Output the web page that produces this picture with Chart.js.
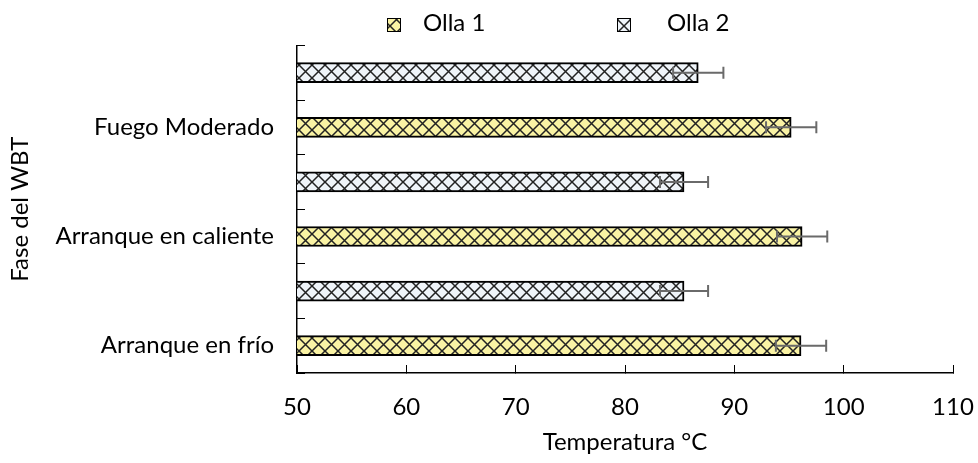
<!DOCTYPE html>
<html>
<head>
<meta charset="utf-8">
<script src="https://cdn.jsdelivr.net/npm/chart.js@4"></script>
<style>
  html, body { margin: 0; padding: 0; background: #fff; }
  #wrap { width: 978px; height: 463px; }
</style>
</head>
<body>
<div id="wrap"><canvas id="chart"></canvas></div>
<script>
// Données
const phases = ['Arranque en frío', 'Arranque en caliente', 'Fuego Moderado'];
const olla1 = [96.1, 96.2, 95.2];
const olla2 = [85.4, 85.4, 86.7];
const olla1Err = [2.3, 2.3, 2.3];
const olla2Err = [2.2, 2.2, 2.3];
const xTicks = [50, 60, 70, 80, 90, 100, 110];

const FONT = 'Lato';

// Motif quadrillé en diagonale (comme le remplissage Excel)
function crossPattern(bg, line) {
  const p = 13;
  const c = document.createElement('canvas');
  c.width = p; c.height = p;
  const g = c.getContext('2d');
  g.fillStyle = bg;
  g.fillRect(0, 0, p, p);
  g.strokeStyle = line;
  g.lineWidth = 1.5;
  g.beginPath();
  g.moveTo(0, 0); g.lineTo(p, p);
  g.moveTo(p, 0); g.lineTo(0, p);
  g.stroke();
  return g.createPattern(c, 'repeat');
}

const fill1 = crossPattern('#faf3a4', '#222');
const fill2 = crossPattern('#eff4f9', '#222');

// Une case par barre : Olla 1 puis Olla 2 pour chaque phase
const labels = phases.flatMap(p => [p, '']);
const data1 = olla1.flatMap(v => [v, null]);
const data2 = olla2.flatMap(v => [null, v]);
const err1 = olla1Err.flatMap(e => [e, null]);
const err2 = olla2Err.flatMap(e => [null, e]);

const errorBars = {
  id: 'errorBars',
  afterDatasetsDraw(chart) {
    const ctx = chart.ctx;
    const xs = chart.scales.x;
    chart.data.datasets.forEach((ds, di) => {
      const meta = chart.getDatasetMeta(di);
      meta.data.forEach((bar, i) => {
        const v = ds.data[i], e = ds.errors[i];
        if (v == null || e == null) return;
        const x1 = xs.getPixelForValue(v - e);
        const x2 = xs.getPixelForValue(v + e);
        const y = bar.y;
        ctx.save();
        ctx.strokeStyle = '#6a6a6a';
        ctx.lineWidth = 2;
        ctx.beginPath();
        ctx.moveTo(x1, y); ctx.lineTo(x2, y);
        ctx.moveTo(x1, y - 6); ctx.lineTo(x1, y + 6);
        ctx.moveTo(x2, y - 6); ctx.lineTo(x2, y + 6);
        ctx.stroke();
        ctx.restore();
      });
    });
  }
};

// Légende en haut, placée comme dans l'original
const topLegend = {
  id: 'topLegend',
  afterDraw(chart) {
    const ctx = chart.ctx;
    const a = chart.chartArea;
    const offsets = [90, 320];
    chart.data.datasets.forEach((ds, i) => {
      const bx = a.left + offsets[i];
      const by = 18;
      ctx.save();
      ctx.fillStyle = ds.backgroundColor;
      ctx.fillRect(bx, by, 14, 14);
      ctx.strokeStyle = '#000';
      ctx.lineWidth = 1;
      ctx.strokeRect(bx + 0.5, by + 0.5, 13, 13);
      ctx.fillStyle = '#000';
      ctx.font = '24px ' + FONT;
      ctx.textBaseline = 'middle';
      ctx.fillText(ds.label, bx + 36 + i * 14, by + 5);
      ctx.restore();
    });
  }
};

new Chart(document.getElementById('chart'), {
  type: 'bar',
  data: {
    labels: labels,
    datasets: [
      { label: 'Olla 1', data: data1, errors: err1, backgroundColor: fill1, borderColor: '#000', borderWidth: 2 },
      { label: 'Olla 2', data: data2, errors: err2, backgroundColor: fill2, borderColor: '#000', borderWidth: 2 }
    ]
  },
  options: {
    indexAxis: 'y',
    responsive: true,
    maintainAspectRatio: false,
    animation: false,
    skipNull: true,
    barThickness: 20,
    layout: { padding: { top: 42, right: 0, left: 0, bottom: 0 } },
    plugins: {
      legend: { display: false },
      tooltip: { enabled: false }
    },
    scales: {
      x: {
        type: 'linear',
        min: xTicks[0],
        max: xTicks[xTicks.length - 1],
        ticks: { stepSize: xTicks[1] - xTicks[0], color: '#000', font: { family: FONT, size: 24 }, padding: 28 },
        grid: { drawOnChartArea: false, tickLength: -8, color: '#000', lineWidth: 1 },
        border: { color: '#000', width: 1.5 },
        title: { display: true, text: 'Temperatura °C', color: '#000', font: { family: FONT, size: 24 }, padding: { top: 0, bottom: 6 } },
        afterFit: s => { s.height = 90; s.paddingRight = 25; s.paddingLeft = 0; }
      },
      y: {
        reverse: true,
        ticks: { color: '#000', font: { family: FONT, size: 24 }, padding: 31, autoSkip: false },
        grid: { drawOnChartArea: false, tickLength: -8, color: '#000', lineWidth: 1 },
        border: { color: '#000', width: 1.5 },
        title: { display: true, text: 'Fase del WBT', color: '#000', font: { family: FONT, size: 24 }, padding: { top: 6, bottom: 0 } },
        afterFit: s => { s.width = 297; }
      }
    }
  },
  plugins: [errorBars, topLegend]
});
</script>
</body>
</html>
